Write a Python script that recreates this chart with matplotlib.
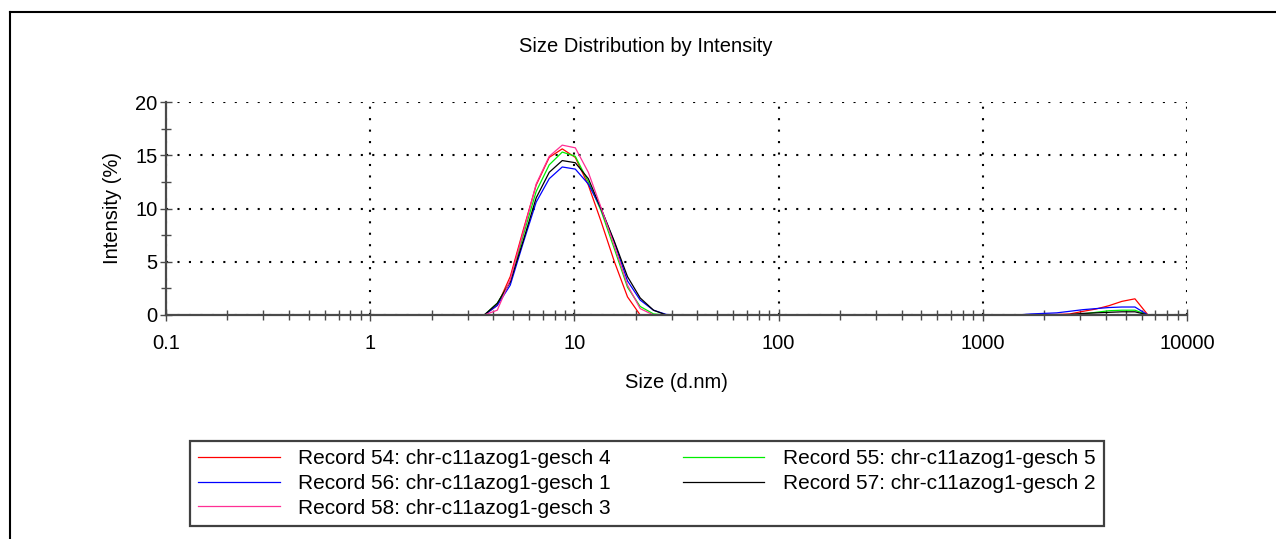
import matplotlib
matplotlib.use("Agg")
import matplotlib.pyplot as plt
from matplotlib.lines import Line2D
from matplotlib.ticker import LogLocator, FixedLocator, FuncFormatter, NullFormatter

plt.rcParams["font.family"] = ["Liberation Sans", "DejaVu Sans"]

# size classes (d.nm) where the records have signal, plus the range ends
size_nm = [0.4, 3.12, 3.62, 4.19, 4.85, 5.62, 6.50, 7.53, 8.72, 10.1, 11.7,
           13.5, 15.7, 18.2, 21.0, 24.4, 28.2, 32.7,
           1280, 1480, 1720, 1990, 2300, 2670, 3090, 3580, 4140, 4800, 5560,
           6440, 10000]

rec54 = [0, 0, 0, 0.9, 3.6, 8.0, 12.2, 14.8, 15.6, 14.8, 12.2,
         8.8, 5.0, 1.7, 0, 0, 0, 0,
         0, 0, 0, 0.05, 0.05, 0.1, 0.34, 0.56, 0.87, 1.28, 1.52,
         0, 0]
rec55 = [0, 0, 0, 1.1, 3.1, 7.5, 11.6, 14.1, 15.3, 14.9, 12.5,
         9.8, 6.2, 2.6, 0.8, 0.1, 0, 0,
         0, 0, 0, 0, 0, 0, 0.1, 0.25, 0.4, 0.45, 0.45,
         0, 0]
rec56 = [0, 0, 0, 0.9, 2.8, 6.8, 10.6, 12.8, 13.9, 13.7, 12.3,
         10.0, 6.8, 3.2, 1.4, 0.45, 0.05, 0,
         0, 0, 0.1, 0.15, 0.2, 0.35, 0.5, 0.6, 0.7, 0.75, 0.75,
         0, 0]
rec57 = [0, 0, 0, 1.1, 3.1, 7.0, 11.0, 13.4, 14.5, 14.3, 12.8,
         10.0, 6.9, 3.6, 1.6, 0.45, 0, 0,
         0, 0, 0, 0, 0, 0.05, 0.15, 0.2, 0.25, 0.3, 0.3,
         0, 0]
rec58 = [0, 0, 0, 0.45, 3.3, 7.8, 12.3, 14.9, 15.95, 15.7, 13.4,
         10.1, 6.5, 2.8, 0.6, 0, 0, 0,
         0, 0, 0, 0, 0, 0, 0, 0, 0, 0, 0,
         0, 0]

records = [
    ("Record 54: chr-c11azog1-gesch 4", rec54, "#ff0000"),
    ("Record 55: chr-c11azog1-gesch 5", rec55, "#00ee00"),
    ("Record 56: chr-c11azog1-gesch 1", rec56, "#0000ff"),
    ("Record 57: chr-c11azog1-gesch 2", rec57, "#000000"),
    ("Record 58: chr-c11azog1-gesch 3", rec58, "#ff2f95"),
]
legend_order = [0, 2, 4, 1, 3]

W, H = 1276, 539
fig = plt.figure(figsize=(W / 100, H / 100), dpi=100)
ax = fig.add_axes([166 / W, 1 - 315 / H, (1187 - 166) / W, (315 - 102) / H])

handles = []
for label, vals, col in records:
    ln, = ax.plot(size_nm, vals, color=col, lw=0.9, label=label)
    handles.append(ln)

ax.set_xscale("log")
ax.set_xlim(0.1, 10000)
ax.set_ylim(0, 20)

ax.xaxis.set_major_locator(LogLocator(base=10, numticks=10))
ax.xaxis.set_minor_locator(LogLocator(base=10, subs=range(2, 10), numticks=20))
ax.xaxis.set_major_formatter(FuncFormatter(lambda v, p: f"{v:g}"))
ax.xaxis.set_minor_formatter(NullFormatter())
ax.yaxis.set_major_locator(FixedLocator([0, 5, 10, 15, 20]))
ax.yaxis.set_minor_locator(FixedLocator([2.5, 7.5, 12.5, 17.5]))

spine_col = "#4a4a4a"
for s in ("top", "right"):
    ax.spines[s].set_visible(False)
for s in ("left", "bottom"):
    ax.spines[s].set_color(spine_col)
    ax.spines[s].set_linewidth(1.6)

ax.tick_params(which="both", direction="inout", color=spine_col, width=1.0,
               labelsize=14.5, labelcolor="black")
ax.tick_params(which="major", length=8)
ax.tick_params(which="minor", length=7)
ax.tick_params(axis="x", pad=10)
ax.tick_params(axis="y", pad=2)

dots = (0, (1, 4.5))
ax.grid(which="major", axis="both", color="black", lw=1.5, linestyle=dots)

ax.set_xlabel("Size (d.nm)", fontsize=14.5, labelpad=14)
ax.set_ylabel("Intensity (%)", fontsize=14.5, labelpad=10)
fig.text(646 / W, 1 - 46 / H, "Size Distribution by Intensity",
         ha="center", va="center", fontsize=14.5)

leg = fig.legend([handles[i] for i in legend_order],
                 [records[i][0] for i in legend_order],
                 loc="lower left",
                 bbox_to_anchor=(190 / W, 13 / H, (1104 - 190) / W, 84 / H),
                 mode="expand", ncol=2, fontsize=15, handlelength=3.9,
                 handletextpad=0.9, labelspacing=0.28, borderpad=0.4,
                 borderaxespad=0, fancybox=False, framealpha=1,
                 edgecolor="#404040")
leg.get_frame().set_linewidth(1.6)

# outer panel border
fig.add_artist(Line2D([10 / W, 10 / W], [0, 1 - 12 / H],
                      transform=fig.transFigure, color="black", lw=1.5))
fig.add_artist(Line2D([10 / W, 1], [1 - 12 / H, 1 - 12 / H],
                      transform=fig.transFigure, color="black", lw=1.5))

fig.savefig("out.png", dpi=100)
